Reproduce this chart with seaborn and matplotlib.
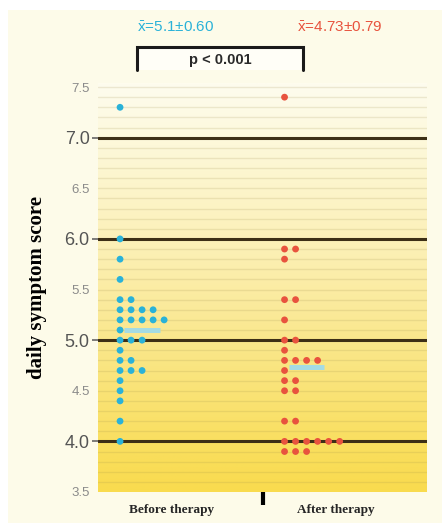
import numpy as np
import pandas as pd
import matplotlib
matplotlib.use("Agg")
import matplotlib.pyplot as plt
import seaborn as sns
from matplotlib.colors import LinearSegmentedColormap
from matplotlib.patches import Rectangle
from matplotlib.lines import Line2D
from matplotlib.transforms import ScaledTranslation, blended_transform_factory

# ---------------- data ----------------
categories = ["Before therapy", "After therapy"]
before_scores = [7.3, 6.0, 5.8, 5.6, 5.4, 5.4, 5.3, 5.3, 5.3, 5.3,
                 5.2, 5.2, 5.2, 5.2, 5.2, 5.1, 5.0, 5.0, 5.0, 4.9,
                 4.8, 4.8, 4.7, 4.7, 4.7, 4.6, 4.5, 4.4, 4.2, 4.0]
after_scores = [7.4, 5.9, 5.9, 5.8, 5.4, 5.4, 5.2, 5.0, 5.0, 4.9,
                4.8, 4.8, 4.8, 4.8, 4.7, 4.6, 4.6, 4.5, 4.5, 4.2,
                4.2, 4.0, 4.0, 4.0, 4.0, 4.0, 4.0, 3.9, 3.9, 3.9]
means = [5.1, 4.73]
mean_labels = [r"$\bar{x}$=5.1\u00b10.60".replace("\\u00b1", "\u00b1"),
               r"$\bar{x}$=4.73\u00b10.79".replace("\\u00b1", "\u00b1")]
p_label = "p < 0.001"
ytick_major = [4.0, 5.0, 6.0, 7.0]
ytick_minor = [3.5, 4.5, 5.5, 6.5, 7.5]
group_colors = ["#2ab2d8", "#e8533e"]

# ---------------- style ----------------
sns.set_style("white")
plt.rcParams["font.family"] = ["Liberation Sans", "DejaVu Sans"]
plt.rcParams["mathtext.fontset"] = "custom"
plt.rcParams["mathtext.rm"] = "Liberation Sans"
plt.rcParams["mathtext.it"] = "Liberation Sans"

fig = plt.figure(figsize=(4.42, 5.23), dpi=100, facecolor="white")
fig.patches.append(Rectangle((8 / 442, 0), 1, 1 - 10 / 523, transform=fig.transFigure,
                             facecolor="#fdfbe9", edgecolor="none", zorder=-10))
ax = fig.add_axes([98 / 442, 1 - 492 / 523, (427 - 98) / 442, (492 - 83) / 523])
ax.set_facecolor("none")

ymin, ymax = 3.5, 7.54
ax.set_xlim(-0.5, 1.5)
ax.set_ylim(ymin, ymax)

# gradient background
cmap = LinearSegmentedColormap.from_list("bg", [
    (0.00, "#f9db4e"), (0.12, "#f9df60"), (0.37, "#fae78c"),
    (0.60, "#fcf0b6"), (0.85, "#fdf8d9"), (1.00, "#fefcee")])
ax.imshow(np.linspace(0, 1, 256).reshape(-1, 1), extent=(-0.5, 1.5, ymin, ymax),
          origin="lower", cmap=cmap, aspect="auto", zorder=0)

# minor grid lines every 0.1
for v in np.arange(3.6, 7.55, 0.1):
    if min(abs(v - m) for m in ytick_major) < 1e-6:
        continue
    ax.axhline(v, color="#9a8a48", alpha=0.17, lw=1.0, zorder=1)
for v in ytick_major:
    ax.axhline(v, color="#3d2f16", lw=2.2, zorder=2)

# ---------------- dots ----------------
df = pd.concat([
    pd.DataFrame({"group": categories[0], "score": before_scores}),
    pd.DataFrame({"group": categories[1], "score": after_scores}),
], ignore_index=True)
df["score"] = df["score"].round(2)
df["rank"] = df.groupby(["group", "score"]).cumcount()
df["gidx"] = df["group"].map({c: i for i, c in enumerate(categories)})
df["xpos"] = df["gidx"] - 0.366 + df["rank"] * 0.067

# mean bars
ax.hlines(means, [i - 0.34 for i in range(len(means))],
          [i - 0.125 for i in range(len(means))],
          color="#a4dbe4", lw=3.6, zorder=3)

sns.scatterplot(data=df, x="xpos", y="score", hue="group", palette=group_colors,
                s=24, edgecolor="none", legend=False, ax=ax, zorder=4)

# ---------------- axes styling ----------------
for sp in ax.spines.values():
    sp.set_visible(False)
ax.set_xlabel("")
ax.set_ylabel("daily symptom score", fontfamily="Liberation Serif", fontweight="bold",
              fontsize=15, color="black")
ax.yaxis.set_label_coords(-0.155, 0.5)

ax.set_yticks(ytick_major)
ax.set_yticklabels([f"{v:.1f}" for v in ytick_major], fontsize=13, color="#555555")
ax.set_yticks(ytick_minor, minor=True)
ax.set_yticklabels([f"{v:.1f}" for v in ytick_minor], minor=True, fontsize=9.5, color="#8a8a8a")
ax.tick_params(axis="y", which="major", left=True, length=4, width=1.2, color="#666666", pad=2)
ax.tick_params(axis="y", which="minor", left=True, length=0, pad=6)

ax.set_xticks([0, 1])
ax.set_xticklabels(categories, fontfamily="Liberation Serif", fontweight="bold", fontsize=9.5)
ax.set_xticks([0.5], minor=True)
ax.tick_params(axis="x", which="major", bottom=True, length=0, pad=9)
ax.tick_params(axis="x", which="minor", bottom=True, length=9, width=3, color="black")
for lbl in ax.get_xticklabels():
    lbl.set_transform(lbl.get_transform() + ScaledTranslation(-0.09, 0, fig.dpi_scale_trans))

# ---------------- annotations ----------------
btr = blended_transform_factory(ax.transData, ax.transAxes)
for i, (lab, col) in enumerate(zip(mean_labels, group_colors)):
    ax.text(i - 0.03, 1.136, lab, transform=btr, ha="center", va="center",
            fontsize=11, color=col, clip_on=False)

x0, x1 = (137 - 98) / 329, (303 - 98) / 329
yb, yt = (492 - 70) / 409, (492 - 47) / 409
ax.add_patch(Rectangle((x0, yb), x1 - x0, yt - yb, transform=ax.transAxes,
                       facecolor="#fffef7", edgecolor="none", clip_on=False, zorder=5))
ax.add_line(Line2D([x0, x0, x1, x1], [yb, yt, yt, yb], transform=ax.transAxes,
                   color="#1a1a1a", lw=2.2, clip_on=False, zorder=6,
                   solid_joinstyle="miter"))
ax.text((x0 + x1) / 2, (yb + yt) / 2 - 0.003, p_label, transform=ax.transAxes,
        ha="center", va="center", fontsize=10.5, fontweight="bold", color="#2a2a2a",
        clip_on=False, zorder=7)

fig.savefig("out.png", dpi=100, facecolor=fig.get_facecolor())
